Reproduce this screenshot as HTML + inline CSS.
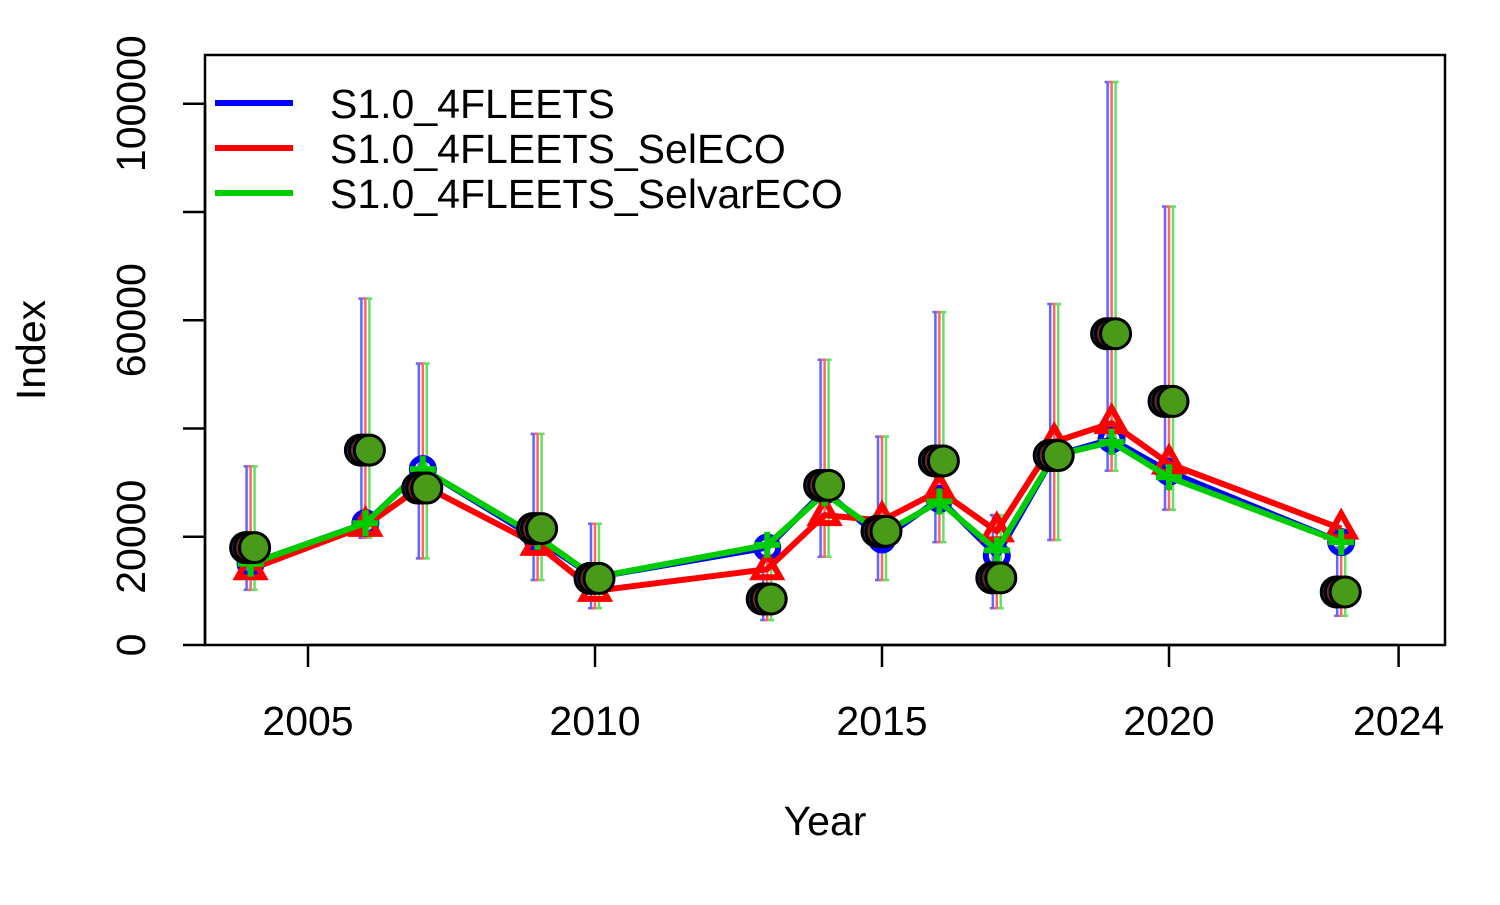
<!DOCTYPE html>
<html><head><meta charset="utf-8"><style>
html,body{margin:0;padding:0;background:#fff;}
svg text{font-family:"Liberation Sans",Arial,sans-serif;fill:#000;}
</style></head><body>
<svg id="chart" width="1500" height="900" xmlns="http://www.w3.org/2000/svg"></svg>
<script>
const years=[2004,2006,2007,2009,2010,2013,2014,2015,2016,2017,2018,2019,2020,2023];
const observed=[18000,36000,29000,21500,12300,8500,29500,21000,34000,12400,35000,57500,45000,9800];
const errLow=[10200,19800,16000,12000,6800,4600,16300,12000,19000,6800,19400,32200,25000,5400];
const errHigh=[33000,64000,52000,39000,22400,16000,52700,38500,61500,24000,63000,104000,81000,18000];
const seriesNames=["S1.0_4FLEETS","S1.0_4FLEETS_SelECO","S1.0_4FLEETS_SelvarECO"];
const blueVals=[15000,22500,32500,19500,12500,18000,28500,19500,27000,16500,35000,38000,32000,19000];
const redVals=[14000,22000,29500,18500,10000,14000,24000,23000,28500,21000,37500,41000,33500,21500];
const greenVals=[15000,22500,32500,20000,12500,18500,28000,20500,26500,17500,35000,37500,31000,19000];
const xTicks=[2005,2010,2015,2020,2024];
const yTicks=[0,20000,40000,60000,80000,100000];
const yLabels=["0","20000","","60000","","100000"];

const svg=document.getElementById('chart');
const NS='http://www.w3.org/2000/svg';
const X=v=>308+(v-2005)*57.4;
const Y=v=>645-v*0.005413;
function mk(tag,attrs,parent){const e=document.createElementNS(NS,tag);for(const k in attrs)e.setAttribute(k,attrs[k]);(parent||svg).appendChild(e);return e;}

let box=mk('rect',{x:205,y:55,width:1240,height:590,fill:'none',stroke:'#000','stroke-width':2.5});



const xa=mk('g',{});


mk('line',{x1:X(2005),x2:X(2024),y1:645,y2:645,stroke:'#000','stroke-width':2.5},xa);
xTicks.forEach(t=>{
  mk('line',{x1:X(t),x2:X(t),y1:645,y2:667,stroke:'#000','stroke-width':2.5},xa);
  const tx=mk('text',{x:X(t),y:735,'font-size':41,'text-anchor':'middle'},xa);tx.textContent=t;
  
  
});
let xt=mk('text',{x:825,y:835,'font-size':41,'text-anchor':'middle'});xt.textContent='Year';



const ya=mk('g',{});


mk('line',{x1:205,x2:205,y1:Y(0),y2:Y(100000),stroke:'#000','stroke-width':2.5},ya);
yTicks.forEach((t,i)=>{
  mk('line',{x1:183,x2:205,y1:Y(t),y2:Y(t),stroke:'#000','stroke-width':2.5},ya);
  if(yLabels[i]){const tx=mk('text',{x:0,y:0,'font-size':41,'text-anchor':'middle',transform:`translate(145,${Y(t)}) rotate(-90)`},ya);tx.textContent=yLabels[i];
  
  }
});
let yt=mk('text',{x:0,y:0,'font-size':41,'text-anchor':'middle',transform:'translate(45,350) rotate(-90)'});yt.textContent='Index';



const cols=['#0000ff','#ff0000','#00cc00'];
const offs=[-4,0,4];
years.forEach((yr,i)=>{
  const g=mk('g',{opacity:0.6});
  
  
  cols.forEach((c,k)=>{
    const x=X(yr)+offs[k];
    mk('line',{x1:x,x2:x,y1:Y(errLow[i]),y2:Y(errHigh[i]),stroke:c,'stroke-width':2.5},g);
    mk('line',{x1:x-3,x2:x+3,y1:Y(errLow[i]),y2:Y(errLow[i]),stroke:c,'stroke-width':2.5},g);
    mk('line',{x1:x-3,x2:x+3,y1:Y(errHigh[i]),y2:Y(errHigh[i]),stroke:c,'stroke-width':2.5},g);
  });
});

const allVals=[blueVals,redVals,greenVals];
allVals.forEach((vals,k)=>{
  const g=mk('g',{});
  
  
  mk('polyline',{points:years.map((y,i)=>X(y)+','+Y(vals[i])).join(' '),fill:'none',stroke:cols[k],'stroke-width':6,'stroke-linejoin':'round'},g);
  years.forEach((y,i)=>{
    const cx=X(y),cy=Y(vals[i]);
    let m;
    if(k===0) m=mk('circle',{cx,cy,r:11,fill:'none',stroke:cols[k],'stroke-width':6},g);
    else if(k===1) m=mk('polygon',{points:`${cx},${cy-15} ${cx-13},${cy+8} ${cx+13},${cy+8}`,fill:'none',stroke:cols[k],'stroke-width':6},g);
    else m=mk('path',{d:`M${cx-13},${cy}H${cx+13}M${cx},${cy-13}V${cy+13}`,stroke:cols[k],'stroke-width':6},g);
    
    
  });
});

const obsFill=['#1e2a6e','#6e2a1e','#4a9a1a'];
years.forEach((yr,i)=>{
  [-5,-1,4].forEach((o,k)=>{
    const c=mk('circle',{cx:X(yr)+o,cy:Y(observed[i]),r:15,fill:obsFill[k],stroke:'#000','stroke-width':3});
    
    
  });
});

const lg=mk('g',{});


seriesNames.forEach((n,k)=>{
  const yy=103+k*45;
  const e=mk('g',{},lg);
  
  
  mk('line',{x1:215,x2:293,y1:yy,y2:yy,stroke:cols[k],'stroke-width':6},e);
  const t=mk('text',{x:330,y:yy+15,'font-size':41},e);t.textContent=n;
});
</script>
</body></html>
